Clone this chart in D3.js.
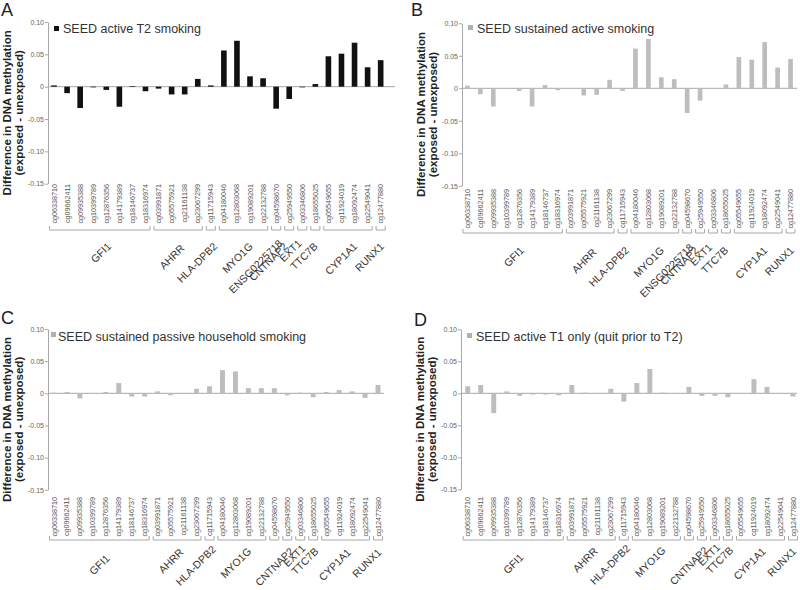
<!DOCTYPE html>
<html>
<head>
<meta charset="utf-8">
<script src="https://cdn.jsdelivr.net/npm/d3@7"></script>
<style>
  html, body { margin: 0; padding: 0; background: #fff; }
  svg { display: block; font-family: "Liberation Sans", Arial, sans-serif; }
</style>
</head>
<body>
<svg id="chart" width="800" height="590"></svg>
<script>
// ---------------- DATA ----------------
const cpgs = [
  "cg06338710","cg09662411","cg09935388","cg10399789","cg12876356","cg14179389","cg18146737","cg18316974",
  "cg03991871","cg05575921","cg21161138","cg23067299",
  "cg11715943",
  "cg04180046","cg12803068","cg19089201","cg22132788",
  "cg04598670",
  "cg25949550",
  "cg03346806",
  "cg18655025",
  "cg05549655","cg11924019","cg18092474","cg22549041",
  "cg12477880"
];
const genes = ["GFI1","AHRR","HLA-DPB2","MYO1G","ENSG0225718","CNTNAP2","EXT1","TTC7B","CYP1A1","RUNX1"];
const geneSizes = [8, 4, 1, 4, 1, 1, 1, 1, 4, 1];

const yTickValues = [0.10, 0.05, 0, -0.05, -0.10, -0.15];
const yTickLabels = ["0.10", "0.05", "0", "-0.05", "-0.10", "-0.15"];

const valuesA = [0.002,-0.010,-0.033,-0.001,-0.005,-0.031,0.001,-0.007,
                 -0.003,-0.012,-0.012,0.012,
                 0.002,
                 0.056,0.071,0.016,0.013,
                 -0.034,
                 -0.019,
                 -0.001,
                 0.004,
                 0.047,0.051,0.068,0.030,
                 0.041];
const valuesB = [0.004,-0.009,-0.028,0.000,-0.004,-0.028,0.005,-0.003,
                 0.000,-0.011,-0.010,0.013,
                 -0.004,
                 0.061,0.076,0.017,0.014,
                 -0.038,
                 -0.019,
                 0.000,
                 0.006,
                 0.048,0.044,0.071,0.032,
                 0.045];
const valuesC = [0.001,0.002,-0.008,-0.001,0.002,0.016,-0.005,-0.005,
                 0.003,-0.003,0.000,0.007,
                 0.011,
                 0.036,0.034,0.008,0.008,
                 0.008,
                 -0.003,
                 0.001,
                 -0.006,
                 0.002,0.005,0.003,-0.007,
                 0.013];
const valuesD = [0.011,0.013,-0.031,0.003,-0.004,-0.002,-0.002,-0.003,
                 0.013,0.001,0.000,0.007,
                 -0.013,
                 0.016,0.038,0.001,0.000,
                 0.010,
                 -0.004,
                 -0.004,
                 -0.006,
                 0.000,0.022,0.010,0.000,
                 -0.005];

const legends = [
  "SEED active T2 smoking",
  "SEED sustained active smoking",
  "SEED sustained passive household smoking",
  "SEED active T1 only (quit prior to T2)"
];
const panelLetters = ["A", "B", "C", "D"];
const yTitle = ["Difference in DNA methylation", "(exposed - unexposed)"];

// ---------------- LAYOUT ----------------
const panels = [
  { letter: 0, values: valuesA, color: "#111111", legColor: "#111111",
    x0: 47.5, x1: 387.2, axisX: 48, lineEnd: 395, yTop: 22, yBot: 183.7,
    labelTop: 184, bracketY: 230, geneY: 247, showAll: true,
    letterX: 1, letterY: 16, legSqX: 54, legSqY: 26, legTxtX: 63, legBase: 32.5, barFrac: 0.43 },
  { letter: 1, values: valuesB, color: "#bdbdbd", legColor: "#b0b0b0",
    x0: 461, x1: 797, axisX: 462, lineEnd: 797, yTop: 23.3, yBot: 185.8,
    labelTop: 189, bracketY: 233, geneY: 251, showAll: true,
    letterX: 411, letterY: 16, legSqX: 468, legSqY: 25, legTxtX: 477, legBase: 32.5, barFrac: 0.36 },
  { letter: 2, values: valuesC, color: "#bdbdbd", legColor: "#b0b0b0",
    x0: 47.5, x1: 384.5, axisX: 48, lineEnd: 384, yTop: 329, yBot: 489.8,
    labelTop: 497, bracketY: 540, geneY: 550, showAll: false,
    letterX: 1, letterY: 324, legSqX: 51, legSqY: 332, legTxtX: 58, legBase: 341, barFrac: 0.38 },
  { letter: 3, values: valuesD, color: "#bdbdbd", legColor: "#b0b0b0",
    x0: 461.2, x1: 799.5, axisX: 461, lineEnd: 797, yTop: 329.3, yBot: 489.3,
    labelTop: 497, bracketY: 540, geneY: 549, showAll: false,
    letterX: 414, letterY: 326, legSqX: 467, legSqY: 333, legTxtX: 476, legBase: 341, barFrac: 0.38 }
];
// small horizontal/vertical nudges of gene labels (layout only)
const geneNudgeFull = { "GFI1":[12,0], "AHRR":[7,2], "HLA-DPB2":[7,0], "MYO1G":[10,0], "ENSG0225718":[7,-3],
                        "CNTNAP2":[-1,0], "EXT1":[0,-3], "TTC7B":[3,0], "CYP1A1":[10,0], "RUNX1":[4,0] };
const geneNudgeShort = { "GFI1":[11,9], "AHRR":[7,3], "HLA-DPB2":[7,0], "MYO1G":[10,2],
                        "CNTNAP2":[7,2], "EXT1":[6,-1], "TTC7B":[6,2], "CYP1A1":[6,3], "RUNX1":[4,3] };

// ---------------- DRAW ----------------
const svg = d3.select("#chart");

// gene groups built from sizes
const groups = [];
let idx = 0;
genes.forEach((g, i) => {
  groups.push({ gene: g, first: cpgs[idx], last: cpgs[idx + geneSizes[i] - 1] });
  idx += geneSizes[i];
});

panels.forEach(p => {
  const g = svg.append("g");
  const x = d3.scaleBand().domain(cpgs).range([p.x0, p.x1]).padding(0);
  const y = d3.scaleLinear().domain([-0.15, 0.10]).range([p.yBot, p.yTop]);
  const bw = x.bandwidth();

  // panel letter
  g.append("text").attr("x", p.letterX).attr("y", p.letterY)
    .attr("font-size", 18).attr("fill", "#222").text(panelLetters[p.letter]);

  // y axis
  const ax = g.append("g").attr("transform", `translate(${p.axisX},0)`)
    .call(d3.axisLeft(y).tickValues(yTickValues)
      .tickFormat((d, i) => yTickLabels[i]).tickSize(3).tickSizeOuter(0));
  ax.select(".domain").attr("stroke", "#a8a8a8");
  ax.selectAll(".tick line").attr("stroke", "#a8a8a8");
  ax.selectAll(".tick text").attr("font-size", 7).attr("fill", "#666")
    .attr("font-family", "Liberation Sans, Arial, sans-serif").attr("x", -4);

  // y title
  const mid = (p.yTop + p.yBot) / 2 + 10;
  [[-36.8, yTitle[0]], [-24.8, yTitle[1]]].forEach(([dx, t]) => {
    g.append("text")
      .attr("transform", `translate(${p.axisX + dx},${mid}) rotate(-90)`)
      .attr("text-anchor", "middle").attr("font-size", 11.5).attr("font-weight", "bold")
      .attr("fill", "#222").text(t);
  });

  // zero line
  g.append("line").attr("x1", p.axisX).attr("x2", p.lineEnd)
    .attr("y1", y(0)).attr("y2", y(0)).attr("stroke", "#a8a8a8").attr("stroke-width", 1);

  // bars
  g.selectAll("rect.bar").data(cpgs.map((c, i) => ({ c, v: p.values[i] })))
    .enter().append("rect").attr("class", "bar")
    .attr("x", d => x(d.c) + bw * (1 - p.barFrac) / 2)
    .attr("width", bw * p.barFrac)
    .attr("y", d => y(Math.max(0, d.v)))
    .attr("height", d => Math.abs(y(d.v) - y(0)))
    .attr("fill", p.color);

  // legend
  g.append("rect").attr("x", p.legSqX).attr("y", p.legSqY).attr("width", 5).attr("height", 5)
    .attr("fill", p.legColor);
  g.append("text").attr("x", p.legTxtX).attr("y", p.legBase).attr("font-size", 12.5)
    .attr("fill", "#333").text(legends[p.letter]);

  // cpg labels
  g.selectAll("text.cpg").data(cpgs).enter().append("text").attr("class", "cpg")
    .attr("transform", d => `translate(${x(d) + bw / 2},${p.labelTop}) rotate(-90)`)
    .attr("text-anchor", "end").attr("dy", "0.35em").attr("font-size", 7.2)
    .attr("fill", "#555").text(d => d);

  // brackets
  groups.forEach(gr => {
    const a = x(gr.first) + 2, b = x(gr.last) + bw - 2, by = p.bracketY;
    g.append("path").attr("d", `M${a},${by - 4}V${by}H${b}V${by - 4}`)
      .attr("fill", "none").attr("stroke", "#a8a8a8").attr("stroke-width", 1);
  });

  // gene labels
  const nudges = p.showAll ? geneNudgeFull : geneNudgeShort;
  groups.forEach(gr => {
    if (!(gr.gene in nudges)) return;
    const [ndx, ndy] = nudges[gr.gene];
    const cx = (x(gr.first) + x(gr.last) + bw) / 2 + ndx;
    g.append("text")
      .attr("transform", `translate(${cx},${p.geneY + ndy}) rotate(-45)`)
      .attr("text-anchor", "end").attr("font-size", 10.5).attr("fill", "#333")
      .text(gr.gene);
  });
});
</script>
</body>
</html>
